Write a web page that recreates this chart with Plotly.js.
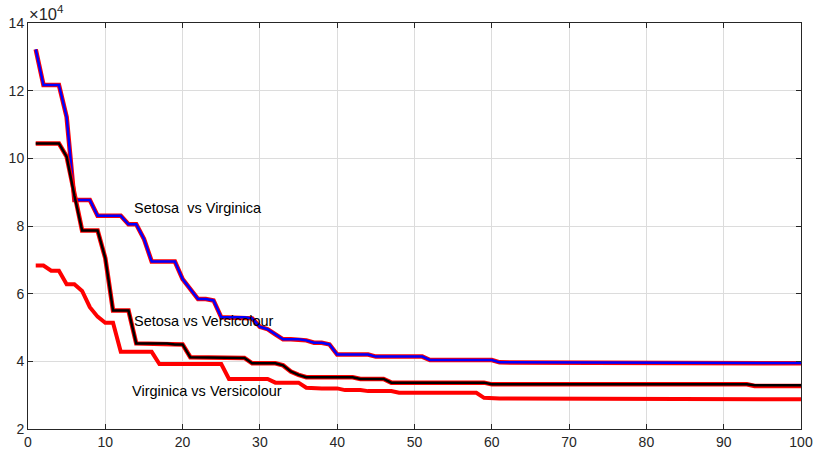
<!DOCTYPE html>
<html>
<head>
<meta charset="utf-8">
<script src="https://cdn.plot.ly/plotly-3.0.1.min.js"></script>
<style>html,body{margin:0;padding:0;background:#fff;}#chart{width:814px;height:453px;}</style>
</head>
<body>
<div id="chart"></div>
<script>
// Iterations
var iterations = [1,2,3,4,5,6,7,8,9,10,11,12,13,14,15,16,17,18,19,20,21,22,23,24,25,26,27,28,29,30,31,32,33,34,35,36,37,38,39,40,41,42,43,44,45,46,47,48,49,50,51,52,53,54,55,56,57,58,59,60,61,62,63,64,65,66,67,68,69,70,71,72,73,74,75,76,77,78,79,80,81,82,83,84,85,86,87,88,89,90,91,92,93,94,95,96,97,98,99,100];

// Values in units of 1e4
var setosaVirginica = [13.22,12.17,12.17,12.17,11.22,8.77,8.77,8.77,8.30,8.30,8.30,8.30,8.05,8.05,7.62,6.95,6.95,6.95,6.95,6.43,6.12,5.84,5.84,5.80,5.30,5.30,5.30,5.30,5.27,5.02,4.95,4.80,4.65,4.65,4.65,4.62,4.55,4.55,4.50,4.20,4.20,4.20,4.20,4.20,4.14,4.14,4.14,4.14,4.14,4.14,4.14,4.04,4.04,4.04,4.04,4.04,4.04,4.04,4.04,4.04,3.97,3.97,3.97,3.97,3.97,3.97,3.97,3.97,3.97,3.97,3.97,3.97,3.97,3.97,3.97,3.97,3.97,3.97,3.97,3.97,3.97,3.97,3.97,3.97,3.97,3.97,3.95,3.95,3.95,3.95,3.95,3.95,3.95,3.95,3.95,3.95,3.95,3.95,3.95,3.95];

var setosaVirginicaRed = [13.22,12.17,12.17,12.17,11.22,8.77,8.77,8.77,8.30,8.30,8.30,8.30,8.05,8.05,7.62,6.95,6.95,6.95,6.95,6.43,6.12,5.84,5.84,5.80,5.30,5.30,5.30,5.30,5.27,5.02,4.95,4.80,4.65,4.65,4.65,4.62,4.55,4.55,4.50,4.20,4.20,4.20,4.20,4.20,4.14,4.14,4.14,4.14,4.14,4.14,4.14,4.04,4.04,4.04,4.04,4.04,4.04,4.04,4.04,4.04,3.97,3.97,3.97,3.97,3.97,3.97,3.97,3.97,3.97,3.97,3.97,3.97,3.97,3.97,3.97,3.97,3.97,3.97,3.97,3.97,3.97,3.97,3.97,3.97,3.97,3.97,3.94,3.94,3.94,3.94,3.94,3.94,3.94,3.94,3.94,3.94,3.94,3.94,3.94,3.94];

var setosaVersicolour = [10.44,10.44,10.44,10.44,10.05,8.90,7.87,7.87,7.87,7.05,5.50,5.50,5.50,4.53,4.53,4.53,4.53,4.53,4.50,4.50,4.12,4.12,4.12,4.12,4.12,4.12,4.12,4.10,3.94,3.94,3.94,3.94,3.88,3.70,3.60,3.53,3.53,3.53,3.53,3.53,3.53,3.53,3.48,3.48,3.48,3.48,3.37,3.37,3.37,3.37,3.37,3.37,3.37,3.37,3.37,3.37,3.37,3.37,3.37,3.32,3.32,3.32,3.32,3.32,3.32,3.32,3.32,3.32,3.32,3.32,3.32,3.32,3.32,3.32,3.32,3.32,3.32,3.32,3.32,3.32,3.32,3.32,3.32,3.32,3.32,3.32,3.32,3.32,3.32,3.32,3.32,3.32,3.32,3.29,3.29,3.29,3.29,3.29,3.29,3.29];

var setosaVersicolourRed = [10.44,10.44,10.44,10.44,10.05,8.90,7.87,7.87,7.87,7.05,5.50,5.50,5.50,4.53,4.53,4.53,4.53,4.53,4.50,4.50,4.12,4.12,4.12,4.12,4.12,4.12,4.12,4.10,3.94,3.94,3.94,3.94,3.88,3.70,3.60,3.53,3.53,3.53,3.53,3.53,3.53,3.53,3.48,3.48,3.48,3.48,3.37,3.37,3.37,3.37,3.37,3.37,3.37,3.37,3.37,3.37,3.37,3.37,3.37,3.32,3.32,3.32,3.32,3.32,3.32,3.32,3.32,3.32,3.32,3.32,3.32,3.32,3.32,3.32,3.32,3.32,3.32,3.32,3.32,3.32,3.32,3.32,3.32,3.32,3.32,3.32,3.32,3.32,3.32,3.32,3.32,3.32,3.32,3.27,3.27,3.27,3.27,3.27,3.27,3.27];

var virginicaVersicolour = [6.83,6.83,6.68,6.68,6.28,6.28,6.08,5.60,5.32,5.14,5.14,4.28,4.28,4.28,4.28,4.28,3.92,3.92,3.92,3.92,3.92,3.92,3.92,3.92,3.92,3.48,3.48,3.48,3.48,3.48,3.48,3.37,3.37,3.37,3.37,3.22,3.20,3.20,3.20,3.20,3.15,3.15,3.15,3.12,3.12,3.12,3.12,3.07,3.07,3.07,3.07,3.07,3.07,3.07,3.07,3.07,3.07,3.07,2.92,2.90,2.90,2.90,2.90,2.90,2.90,2.90,2.90,2.90,2.90,2.90,2.90,2.90,2.90,2.90,2.90,2.90,2.90,2.90,2.90,2.90,2.90,2.90,2.90,2.90,2.90,2.90,2.90,2.88,2.88,2.88,2.88,2.88,2.88,2.88,2.88,2.88,2.88,2.88,2.88,2.88];

var labels = ["Setosa  vs Virginica", "Setosa vs Versicolour", "Virginica vs Versicolour"];
var labelX = [13.5, 13.5, 13.2];
var labelY = [8.53, 5.19, 3.12];

var yTicks = [2,4,6,8,10,12,14];
var xTicks = [0,10,20,30,40,50,60,70,80,90,100];

var font = "Liberation Sans, Arial, Helvetica, sans-serif";

var traces = [
  {x: iterations, y: setosaVirginicaRed, mode: 'lines', line: {color: '#ff0000', width: 4.5}, hoverinfo: 'skip'},
  {x: iterations, y: setosaVirginica, mode: 'lines', line: {color: '#0000ff', width: 2.5}},
  {x: iterations, y: setosaVersicolourRed, mode: 'lines', line: {color: '#ff0000', width: 4.5}, hoverinfo: 'skip'},
  {x: iterations, y: setosaVersicolour, mode: 'lines', line: {color: '#000000', width: 2.5}},
  {x: iterations, y: virginicaVersicolour, mode: 'lines', line: {color: '#ff0000', width: 4}}
];

var annotations = labels.map(function(t, i){
  return {x: labelX[i], y: labelY[i], xref: 'x', yref: 'y', text: t, showarrow: false,
          xanchor: 'left', yanchor: 'middle', font: {family: font, size: 14.5, color: '#000'}};
});
annotations.push({x: 0, y: 1, xref: 'paper', yref: 'paper', xanchor: 'left', yanchor: 'bottom',
  text: '\u00d710<sup>4</sup>', showarrow: false, xshift: -1, yshift: -2,
  font: {family: font, size: 16.5, color: '#262626'}});

var layout = {
  width: 814, height: 453,
  margin: {l: 28, r: 13, t: 23, b: 24},
  paper_bgcolor: '#ffffff', plot_bgcolor: '#ffffff',
  showlegend: false,
  font: {family: font, size: 14, color: '#262626'},
  xaxis: {range: [0, 100], tickvals: xTicks, ticktext: xTicks.map(String),
          showgrid: true, gridcolor: '#dcdcdc', gridwidth: 1, zeroline: false,
          showline: true, linecolor: '#262626', linewidth: 1, mirror: 'ticks',
          ticks: 'inside', ticklen: 5, tickcolor: '#262626',
          tickfont: {family: font, size: 14, color: '#262626'}},
  yaxis: {range: [2, 14], tickvals: yTicks, ticktext: yTicks.map(String),
          showgrid: true, gridcolor: '#dcdcdc', gridwidth: 1, zeroline: false,
          showline: true, linecolor: '#262626', linewidth: 1, mirror: 'ticks',
          ticks: 'inside', ticklen: 5, tickcolor: '#262626',
          tickfont: {family: font, size: 14, color: '#262626'}},
  annotations: annotations
};

Plotly.newPlot('chart', traces, layout, {displayModeBar: false, staticPlot: true});
</script>
</body>
</html>
